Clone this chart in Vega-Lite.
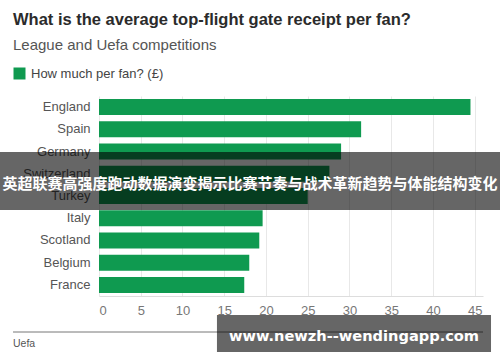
{
  "$schema": "https://vega.github.io/schema/vega-lite/v6.json",
  "width": 384,
  "height": 200,
  "autosize": {"type": "none"},
  "padding": {"left": 99, "top": 96, "right": 17, "bottom": 66},
  "background": "white",
  "config": {"view": {"stroke": null}, "font": "Liberation Sans"},
  "title": {
    "text": "What is the average top-flight gate receipt per fan?",
    "subtitle": "League and Uefa competitions",
    "anchor": "start",
    "frame": "group",
    "dx": -86,
    "font": "Liberation Sans",
    "fontSize": 16.5,
    "fontWeight": "bold",
    "color": "#2b2b2b",
    "subtitleFont": "Liberation Sans",
    "subtitleFontSize": 15,
    "subtitleColor": "#555555",
    "subtitlePadding": 10,
    "offset": 14
  },
  "resolve": {"scale": {"y": "independent"}, "axis": {"y": "independent"}},
  "layer": [
    {
      "data": {"values": [
        {"country": "England", "per_fan": 44.5},
        {"country": "Spain", "per_fan": 31.4},
        {"country": "Germany", "per_fan": 29.0},
        {"country": "Switzerland", "per_fan": 27.6},
        {"country": "Turkey", "per_fan": 25.0},
        {"country": "Italy", "per_fan": 19.6},
        {"country": "Scotland", "per_fan": 19.2},
        {"country": "Belgium", "per_fan": 18.0},
        {"country": "France", "per_fan": 17.4}
      ]},
      "mark": {"type": "bar"},
      "encoding": {
        "y": {"field": "country", "type": "nominal", "sort": null,
          "scale": {"paddingInner": 0.28, "paddingOuter": 0.14},
          "axis": {"title": null, "domain": false, "ticks": false, "grid": false, "labelPadding": 9, "labelFontSize": 13, "labelFont": "Liberation Sans", "labelColor": "#555555"}},
        "x": {"field": "per_fan", "type": "quantitative",
          "scale": {"domain": [0, 46], "nice": false, "zero": true},
          "axis": {"title": null, "values": [0, 5, 10, 15, 20, 25, 30, 35, 40, 45], "grid": true, "gridColor": "#e8e8e8", "domainColor": "#dddddd", "ticks": false, "labelPadding": 8, "labelFontSize": 13, "labelFont": "Liberation Sans", "labelColor": "#777777"}},
        "color": {"datum": "How much per fan? (£)", "type": "nominal",
          "scale": {"range": ["#0f9a50"]},
          "legend": {"orient": "none", "legendX": -86, "legendY": -29, "title": null, "symbolType": "square", "symbolSize": 144, "symbolStrokeWidth": 0, "labelFontSize": 13, "labelFont": "Liberation Sans", "labelColor": "#444444", "labelOffset": 5, "padding": 0}}
      }
    },
    {
      "data": {"values": [{"x": -10.3, "x2": 46, "y": 236}]},
      "mark": {"type": "rule", "color": "#777777", "strokeWidth": 1},
      "encoding": {
        "x": {"field": "x", "type": "quantitative", "title": null},
        "x2": {"field": "x2"},
        "y": {"field": "y", "type": "quantitative", "scale": {"domain": [0, 200], "reverse": true, "nice": false, "zero": false}, "axis": null}
      }
    },
    {
      "data": {"values": [{"x": -10.3, "y": 250.7, "label": "Uefa"}]},
      "mark": {"type": "text", "align": "left", "baseline": "alphabetic", "fontSize": 10.5, "font": "Liberation Sans", "color": "#555555"},
      "encoding": {
        "x": {"field": "x", "type": "quantitative", "title": null},
        "y": {"field": "y", "type": "quantitative", "scale": {"domain": [0, 200], "reverse": true, "nice": false, "zero": false}, "axis": null},
        "text": {"field": "label"}
      }
    },
    {
      "data": {"values": [{"x": -11.9, "x2": 48.1, "y": 56, "y2": 114}, {"x": 14.13, "x2": 46.96, "y": 219, "y2": 256}]},
      "mark": {"type": "rect", "color": "#000000", "opacity": 0.6},
      "encoding": {
        "x": {"field": "x", "type": "quantitative", "title": null},
        "x2": {"field": "x2"},
        "y": {"field": "y", "type": "quantitative", "scale": {"domain": [0, 200], "reverse": true, "nice": false, "zero": false}, "axis": null},
        "y2": {"field": "y2"}
      }
    },
    {
      "data": {"values": [{"x": 18.1, "y": 87.5, "label": "英超联赛高强度跑动数据演变揭示比赛节奏与战术革新趋势与体能结构变化"}]},
      "mark": {"type": "text", "align": "center", "baseline": "middle", "fontSize": 15, "font": "Noto Sans CJK SC", "fontWeight": "bold", "color": "#ffffff"},
      "encoding": {
        "x": {"field": "x", "type": "quantitative", "title": null},
        "y": {"field": "y", "type": "quantitative", "scale": {"domain": [0, 200], "reverse": true, "nice": false, "zero": false}, "axis": null},
        "text": {"field": "label"}
      }
    },
    {
      "data": {"values": [{"x": 30.55, "y": 245, "label": "www.newzh--wendingapp.com"}]},
      "mark": {"type": "text", "align": "center", "baseline": "alphabetic", "fontSize": 14.6, "font": "DejaVu Sans", "fontWeight": "bold", "color": "#ffffff"},
      "encoding": {
        "x": {"field": "x", "type": "quantitative", "title": null},
        "y": {"field": "y", "type": "quantitative", "scale": {"domain": [0, 200], "reverse": true, "nice": false, "zero": false}, "axis": null},
        "text": {"field": "label"}
      }
    }
  ]
}
